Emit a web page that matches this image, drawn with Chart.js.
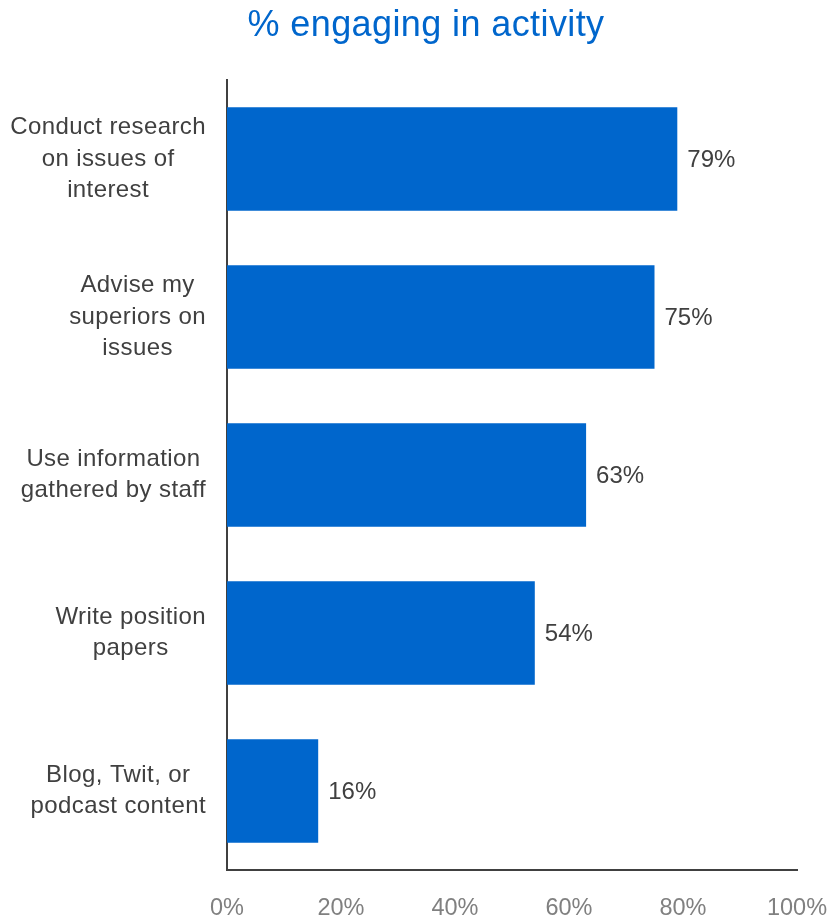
<!DOCTYPE html>
<html>
<head>
<meta charset="utf-8">
<title>% engaging in activity</title>
<script src="https://cdn.jsdelivr.net/npm/chart.js@4"></script>
<style>
  html, body { margin: 0; padding: 0; background: #fff; }
  #wrap { width: 830px; height: 918px; position: relative; }
</style>
</head>
<body>
<div id="wrap"><canvas id="activityChart"></canvas></div>
<script>
const categories = [
  ["Conduct research", "on issues of", "interest"],
  ["Advise my", "superiors on", "issues"],
  ["Use information", "gathered by staff"],
  ["Write position", "papers"],
  ["Blog, Twit, or", "podcast content"],
];
const percentValues = [79, 75, 63, 54, 16];
const tickValues = [0, 20, 40, 60, 80, 100];
const chartTitle = "% engaging in activity";

const FONT = "'Liberation Sans', Arial, sans-serif";
const BLUE = "#0066CC";
const DARK = "#404040";

// category labels: each block sits against the axis, its lines centred within it
const categoryLabels = {
  id: "categoryLabels",
  afterDraw(chart) {
    const { ctx } = chart;
    const yScale = chart.scales.y;
    const rightEdge = yScale.right - 21;
    const lineGap = 31.5;
    ctx.save();
    ctx.letterSpacing = "0.4px";
    ctx.font = "24px " + FONT;
    ctx.fillStyle = DARK;
    ctx.textAlign = "center";
    ctx.textBaseline = "middle";
    categories.forEach((lines, i) => {
      const cy = yScale.getPixelForValue(i);
      const w = Math.max(...lines.map((l) => ctx.measureText(l).width));
      const cx = rightEdge - w / 2;
      lines.forEach((line, j) => {
        ctx.fillText(line, cx, cy + (j - (lines.length - 1) / 2) * lineGap);
      });
    });
    ctx.restore();
  },
};

// value labels just past the end of each bar
const valueLabels = {
  id: "valueLabels",
  afterDatasetsDraw(chart) {
    const { ctx } = chart;
    const meta = chart.getDatasetMeta(0);
    ctx.save();
    ctx.font = "24px " + FONT;
    ctx.fillStyle = DARK;
    ctx.textAlign = "left";
    ctx.textBaseline = "middle";
    meta.data.forEach((bar, i) => {
      ctx.fillText(percentValues[i] + "%", bar.x + 10, bar.y + 1);
    });
    ctx.restore();
  },
};

// heading above the plot
const heading = {
  id: "heading",
  afterDraw(chart) {
    const { ctx } = chart;
    ctx.save();
    ctx.letterSpacing = "0.4px";
    ctx.font = "36px " + FONT;
    ctx.fillStyle = BLUE;
    ctx.textAlign = "center";
    ctx.textBaseline = "alphabetic";
    ctx.fillText(chartTitle, 426, 36);
    ctx.restore();
  },
};

const noEdgePadding = (scale) => {
  scale.paddingLeft = 0;
  scale.paddingRight = 0;
  scale.paddingTop = 0;
  scale.paddingBottom = 0;
};

const ctx = document.getElementById("activityChart").getContext("2d");
new Chart(ctx, {
  type: "bar",
  data: {
    labels: categories,
    datasets: [
      {
        data: percentValues,
        backgroundColor: BLUE,
        borderWidth: 0,
        categoryPercentage: 1,
        barPercentage: 0.655,
      },
    ],
  },
  options: {
    indexAxis: "y",
    responsive: true,
    maintainAspectRatio: false,
    animation: false,
    layout: { padding: { left: 0, right: 33, top: 80, bottom: 0 } },
    plugins: {
      legend: { display: false },
      tooltip: { enabled: false },
      title: { display: false },
    },
    scales: {
      x: {
        min: 0,
        max: 100,
        afterFit: (scale) => {
          scale.height = 48;
          noEdgePadding(scale);
        },
        afterBuildTicks: (scale) => {
          scale.ticks = tickValues.map((v) => ({ value: v }));
        },
        grid: { display: false, drawTicks: false },
        border: { display: true, color: DARK, width: 2 },
        ticks: {
          padding: 24,
          color: "#808080",
          font: { family: FONT, size: 23.5 },
          callback: (v) => v + "%",
        },
      },
      y: {
        afterFit: (scale) => {
          scale.width = 227;
          noEdgePadding(scale);
        },
        grid: { display: false, drawTicks: false },
        border: { display: true, color: DARK, width: 2 },
        ticks: { display: false },
      },
    },
  },
  plugins: [valueLabels, categoryLabels, heading],
});
</script>
</body>
</html>
